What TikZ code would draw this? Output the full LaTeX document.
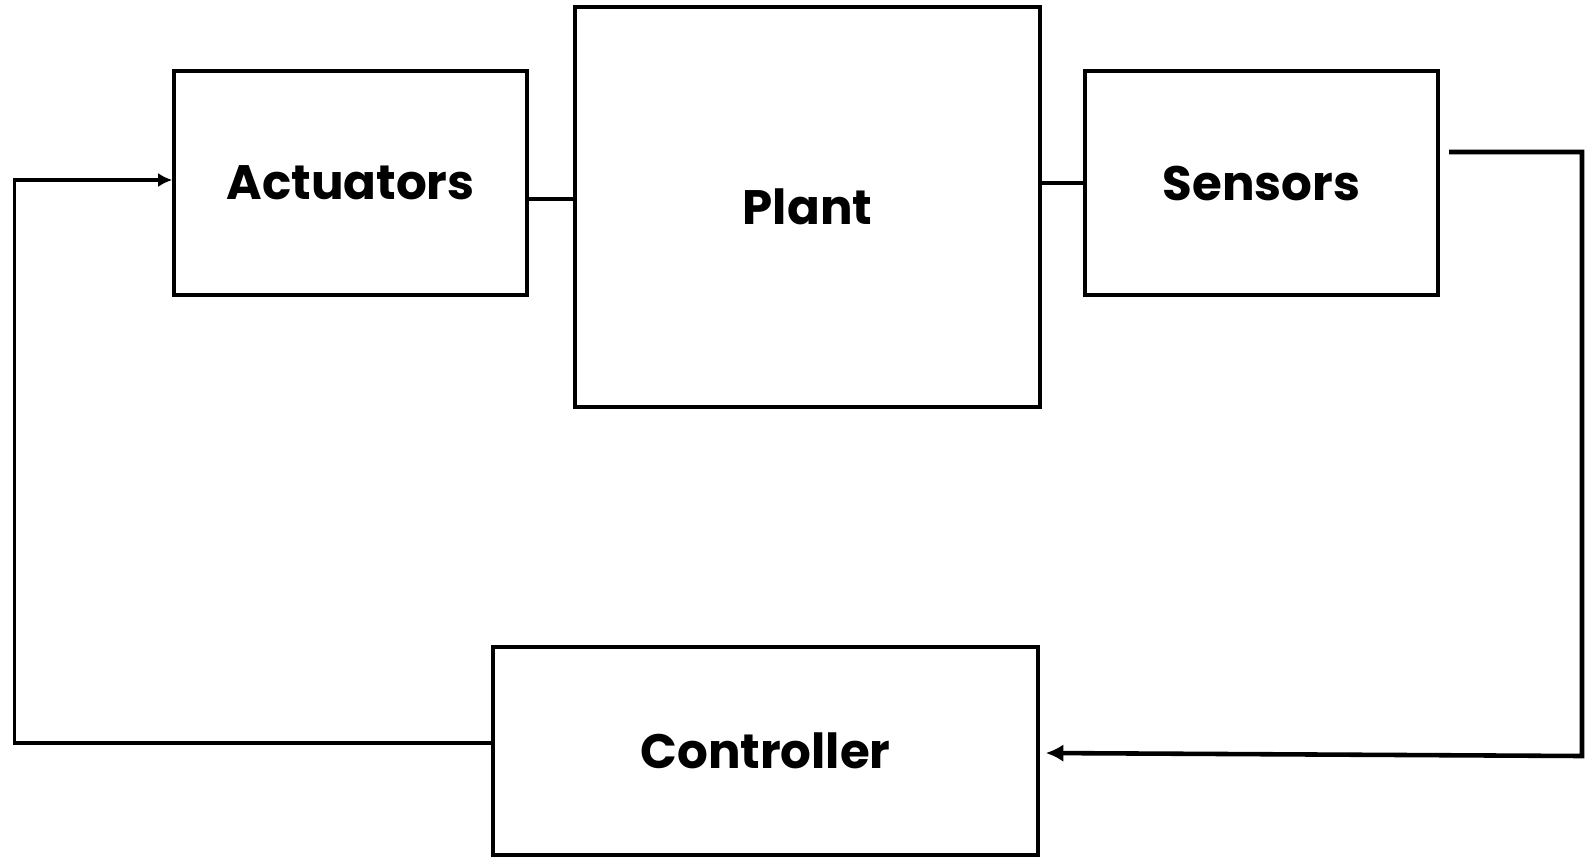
\documentclass[tikz,border=0pt]{standalone}
\usepackage{fontspec}
\setmainfont{Poppins}
\usetikzlibrary{positioning}
\usetikzlibrary{arrows.meta}
\tikzset{
    mybox/.style = {rectangle, draw=black, line width=2pt, align=center, fill=white, font=\bfseries\fontsize{27.5}{33}\selectfont},
    edgen/.style = {line width=2pt, draw=black},
    edgea/.style = {-{Latex[length=8pt,width=8pt]}, line width=2pt, draw=black},
    edgeo/.style = {-{Latex[length=10pt,width=10pt]}, line width=2.6pt, draw=black} % sensor output
}
\begin{document}
\begin{tikzpicture}[scale=1.00]
\useasboundingbox (0,0) rectangle (31.70,-17.14);

\node[mybox, minimum width=7.06cm, minimum height=4.48cm] at ( 7.01, -3.66) (act) {Actuators};
\node[mybox, minimum width=9.30cm, minimum height=8.00cm] at (16.15, -4.14) (plant) {Plant};
\node[mybox, minimum width=7.06cm, minimum height=4.48cm] at (25.23, -3.66) (sens) {Sensors};
\node[mybox, minimum width=10.90cm, minimum height=4.16cm] at (15.31, -15.02) (ctrl) {Controller};
\coordinate (sout) at (28.98, -3.04);

\draw[edgen] (act.east |- 0,-3.98) -- (plant.west |- 0,-3.98);
\draw[edgen] (plant.east |- sens.west) -- (sens.west);
\draw[edgeo] (sout) -| (31.64,-15.12) -- ([xshift=0.12cm]ctrl.east |- 0,-15.06);
\draw[edgea] (ctrl.west |- 0,-14.86) -| (0.29,-3.60) -- (act.west |- 0,-3.60);

\end{tikzpicture}
\end{document}
